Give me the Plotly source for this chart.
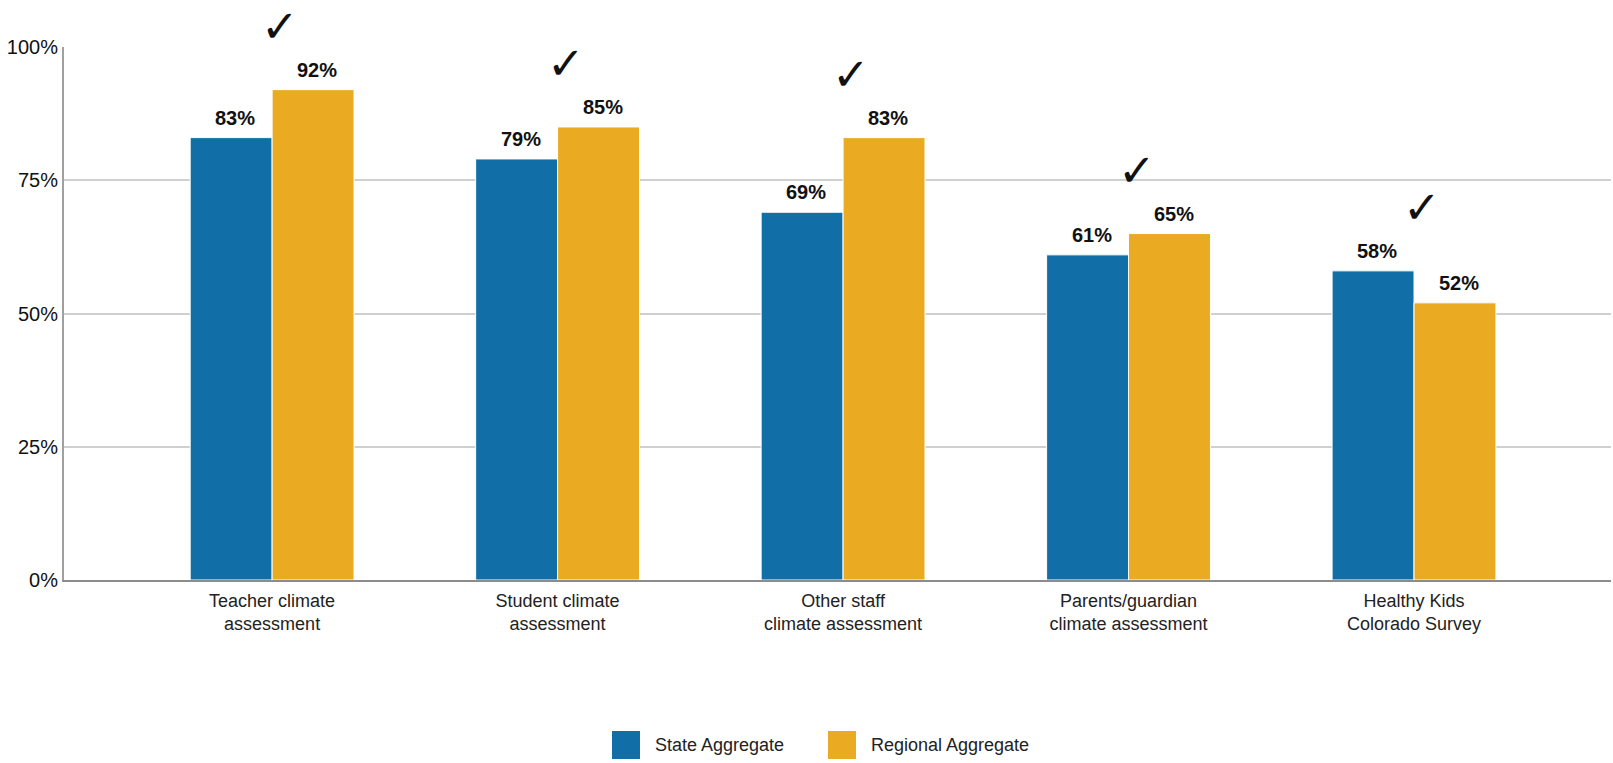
import plotly.graph_objects as go

# Survey categories (two-line tick labels)
categories = [
    "Teacher climate<br>assessment",
    "Student climate<br>assessment",
    "Other staff<br>climate assessment",
    "Parents/guardian<br>climate assessment",
    "Healthy Kids<br>Colorado Survey",
]
series_names = ["State Aggregate", "Regional Aggregate"]
state_values = [83, 79, 69, 61, 58]
regional_values = [92, 85, 83, 65, 52]
checked = [True, True, True, True, True]
y_ticks = [0, 25, 50, 75, 100]
y_tick_text = ["0%", "25%", "50%", "75%", "100%"]

BLUE = "#116ea6"
GOLD = "#eaab23"
colors = [BLUE, GOLD]

W, H = 1613, 763
M_L, M_R, M_T, M_B = 64, 2, 47, 183
PLOT_W = W - M_L - M_R
PLOT_H = H - M_T - M_B
BAR_W = 0.287  # width of one bar in category units

fig = go.Figure()
for name, vals, col in zip(series_names, [state_values, regional_values], colors):
    fig.add_trace(go.Bar(
        x=categories, y=vals, name=name,
        marker=dict(color=col, line=dict(color="white", width=1)),
        showlegend=False, hoverinfo="skip",
    ))

annotations = []
# value labels above each bar
for k, vals in enumerate([state_values, regional_values]):
    off = (k - 0.5) * BAR_W
    for i, v in enumerate(vals):
        annotations.append(dict(
            x=i + off, y=v, xref="x", yref="y", text=f"<b>{v}%</b>",
            showarrow=False, yanchor="middle", xanchor="center",
            yshift=20, xshift=4,
            font=dict(family="Liberation Sans, Arial", size=20, color="#111"),
        ))
# check marks above each flagged pair
for i, flag in enumerate(checked):
    if flag:
        annotations.append(dict(
            x=i, y=max(state_values[i], regional_values[i]), xref="x", yref="y",
            text="✓", showarrow=False, yanchor="middle", xanchor="center",
            yshift=63, xshift=8,
            font=dict(family="DejaVu Sans", size=45, color="#111"),
        ))

# custom legend with large swatches
def px_x(px):
    return (px - M_L) / PLOT_W

def px_y(py):
    return (H - M_B - py) / PLOT_H

shapes = []
legend_x = [612, 828]
for name, col, lx in zip(series_names, colors, legend_x):
    shapes.append(dict(
        type="rect", xref="paper", yref="paper",
        x0=px_x(lx), x1=px_x(lx + 28), y0=px_y(759), y1=px_y(731),
        fillcolor=col, line=dict(width=0),
    ))
    annotations.append(dict(
        x=px_x(lx + 41), y=px_y(745), xref="paper", yref="paper",
        text=name, showarrow=False, xanchor="left", yanchor="middle",
        font=dict(family="Liberation Sans, Arial", size=18, color="#222"),
    ))

fig.update_layout(
    width=W, height=H,
    margin=dict(l=M_L, r=M_R, t=M_T, b=M_B, pad=0),
    paper_bgcolor="white", plot_bgcolor="white",
    barmode="group", bargap=1 - 2 * BAR_W, bargroupgap=0,
    annotations=annotations, shapes=shapes,
    font=dict(family="Liberation Sans, Arial", color="#222"),
    xaxis=dict(
        type="category", range=[-0.729, 4.69],
        showgrid=False, showline=True, linecolor="#8c8c8c", linewidth=2,
        ticks="", tickfont=dict(size=18, color="#222"), ticklabelstandoff=3,
        zeroline=False, fixedrange=True,
    ),
    yaxis=dict(
        range=[0, 100], tickvals=y_ticks, ticktext=y_tick_text,
        showgrid=True, gridcolor="#d0d0d0", gridwidth=2,
        showline=True, linecolor="#a0a0a0", linewidth=2,
        ticks="", tickfont=dict(size=20, color="#111"),
        zeroline=False, fixedrange=True,
    ),
)

fig.write_html("out.html", config={"displayModeBar": False})
